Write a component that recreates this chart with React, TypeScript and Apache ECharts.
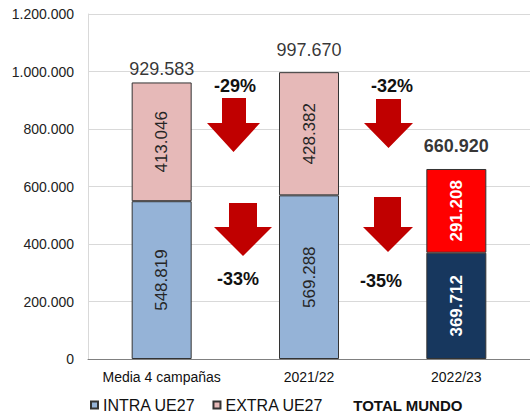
import React, { useEffect, useRef } from "react";
import * as echarts from "echarts";

const categories = ["Media 4 campañas", "2021/22", "2022/23"];
const intraValues = [548819, 569288, 369712];
const extraValues = [413046, 428382, 291208];
const totalValues = [929583, 997670, 660920];
const yTicks = [0, 200000, 400000, 600000, 800000, 1000000, 1200000];
const changeLabels = ["-29%", "-32%", "-33%", "-35%"];

const fmt = (n: number) => n.toString().replace(/\B(?=(\d{3})+(?!\d))/g, ".");

const FONT = "Liberation Sans, Arial, sans-serif";
const ARROW = "#C00000";

function arrow(sx1: number, sx2: number, top: number, hx1: number, hx2: number, headTop: number, tipX: number, tipY: number) {
  return {
    type: "polygon",
    shape: {
      points: [
        [sx1, top],
        [sx2, top],
        [sx2, headTop],
        [hx2, headTop],
        [tipX, tipY],
        [hx1, headTop],
        [sx1, headTop],
      ],
    },
    style: { fill: ARROW },
    z: 10,
  };
}

function pctText(text: string, x: number, y: number) {
  return {
    type: "text",
    x,
    y,
    style: {
      text,
      fill: "#111",
      font: `bold 18px ${FONT}`,
      textAlign: "center",
      textVerticalAlign: "middle",
    },
    z: 10,
  };
}

export default function App() {
  const ref = useRef<HTMLDivElement>(null);
  useEffect(() => {
    if (!ref.current) return;
    const chart = echarts.init(ref.current, undefined, { renderer: "svg" });
    const last = categories.length - 1;
    chart.setOption({
      animation: false,
      textStyle: { fontFamily: FONT },
      grid: { left: 88, right: -6, top: 14, bottom: 57, containLabel: false },
      legend: {
        left: 90,
        top: 397,
        padding: 0,
        itemWidth: 7,
        itemHeight: 7,
        itemGap: 17,
        textStyle: { fontFamily: FONT, fontSize: 16, color: "#111" },
        data: [
          { name: "INTRA UE27", icon: "rect" },
          { name: "EXTRA UE27", icon: "rect" },
          {
            name: "TOTAL MUNDO",
            icon: "none",
            textStyle: { fontWeight: "bold", fontSize: 15, padding: [0, 0, 0, 1] },
          },
        ],
      },
      xAxis: {
        type: "category",
        data: categories,
        axisLine: { lineStyle: { color: "#808080", width: 1 } },
        axisTick: { show: false },
        axisLabel: { fontSize: 14, color: "#111", margin: 11, fontFamily: FONT, interval: 0, hideOverlap: false },
      },
      yAxis: {
        type: "value",
        min: yTicks[0],
        max: yTicks[yTicks.length - 1],
        interval: yTicks[1] - yTicks[0],
        axisLine: { show: true, lineStyle: { color: "#d9d9d9" } },
        splitLine: { lineStyle: { color: "#d9d9d9" } },
        axisLabel: { fontSize: 14, color: "#222", margin: 14, fontFamily: FONT, formatter: (v: number) => fmt(v) },
      },
      series: [
        {
          name: "INTRA UE27",
          type: "bar",
          stack: "t",
          barWidth: 60,
          itemStyle: { color: "#95B3D7", borderColor: "#333", borderWidth: 1 },
          label: {
            show: true,
            position: "inside",
            rotate: 90,
            fontSize: 17,
            color: "#262626",
            fontFamily: FONT,
            formatter: (p: any) => fmt(p.value),
          },
          data: intraValues.map((v, i) =>
            i === last
              ? {
                  value: v,
                  itemStyle: { color: "#17375E" },
                  label: { color: "#fff", fontWeight: "bold" },
                }
              : v
          ),
        },
        {
          name: "EXTRA UE27",
          type: "bar",
          stack: "t",
          barWidth: 60,
          itemStyle: { color: "#E6B9B8", borderColor: "#333", borderWidth: 1 },
          label: {
            show: true,
            position: "inside",
            rotate: 90,
            fontSize: 17,
            color: "#262626",
            fontFamily: FONT,
            formatter: (p: any) => fmt(p.value),
          },
          data: extraValues.map((v, i) =>
            i === last
              ? {
                  value: v,
                  itemStyle: { color: "#FF0000" },
                  label: { color: "#fff", fontWeight: "bold" },
                }
              : v
          ),
        },
        {
          name: "TOTAL MUNDO",
          type: "scatter",
          symbolSize: 1,
          itemStyle: { color: "rgba(0,0,0,0)" },
          z: 5,
          label: {
            show: true,
            position: "top",
            distance: 13,
            fontSize: 18,
            color: "#000",
            fontFamily: FONT,
            formatter: (p: any) => fmt(p.value),
          },
          data: totalValues.map((v, i) =>
            i === last ? { value: v, label: { fontWeight: "bold" } } : v
          ),
        },
      ],
      graphic: [
        arrow(222, 246, 98, 207, 260, 123, 233.5, 152),
        arrow(376, 401, 99, 364, 413, 123, 388.5, 148),
        arrow(229, 257, 203, 214, 272, 227, 243, 256),
        arrow(374, 401, 197, 363, 413, 227, 388, 252),
        pctText(changeLabels[0], 235, 86),
        pctText(changeLabels[1], 392, 86),
        pctText(changeLabels[2], 238, 279),
        pctText(changeLabels[3], 381, 281),
      ],
    });
    return () => chart.dispose();
  }, []);
  return (
    <div
      ref={ref}
      style={{ position: "fixed", left: 0, top: 0, width: 530, height: 416, background: "#fff" }}
    />
  );
}
